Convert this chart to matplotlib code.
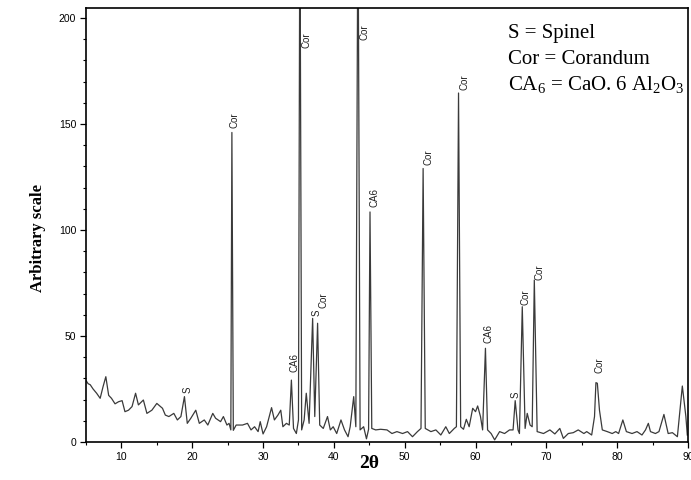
import matplotlib
matplotlib.use("Agg")
import matplotlib.pyplot as plt
from matplotlib.ticker import MultipleLocator

# XRD pattern (2theta in degrees, arbitrary intensity)
two_theta = [
    5.0, 5.3, 5.6, 6.0, 6.5, 7.0, 7.4, 7.8, 8.2, 8.6, 9.1, 9.6, 10.1, 10.5, 11.0,
    11.5, 12.0, 12.4, 13.1, 13.6, 14.3, 15.0, 15.8, 16.2, 16.7, 17.4, 17.9, 18.4,
    18.9, 19.3, 19.8, 20.5, 21.0, 21.7, 22.2, 22.9, 23.3, 24.0, 24.4, 24.9, 25.2,
    25.45, 25.6, 25.8, 26.2, 27.1, 27.8, 28.3, 28.8, 29.3, 29.6, 30.0, 30.5, 31.2,
    31.6, 32.1, 32.5, 32.8, 33.3, 33.7, 34.0, 34.3, 34.7, 35.0, 35.2, 35.45, 35.8,
    36.1, 36.5, 37.0, 37.3, 37.7, 38.0, 38.5, 39.1, 39.5, 39.9, 40.4, 41.0, 41.5,
    42.0, 42.3, 42.8, 43.1, 43.4, 43.7, 44.2, 44.6, 44.9, 45.1, 45.35, 45.9, 46.6,
    47.5, 48.2, 48.9, 49.7, 50.4, 51.1, 51.8, 52.3, 52.6, 52.9, 53.7, 54.4, 55.1,
    55.8, 56.3, 57.0, 57.3, 57.6, 57.9, 58.3, 58.7, 59.1, 59.6, 60.0, 60.3, 60.7,
    61.0, 61.4, 61.7, 62.2, 62.7, 63.4, 64.1, 64.8, 65.3, 65.6, 66.0, 66.2, 66.6,
    67.0, 67.3, 67.7, 68.0, 68.3, 68.7, 69.6, 70.5, 71.2, 71.9, 72.4, 73.1, 73.8,
    74.5, 75.3, 75.7, 76.4, 76.8, 77.0, 77.2, 77.5, 77.9, 78.6, 79.3, 79.8, 80.2,
    80.8, 81.3, 82.1, 82.8, 83.5, 84.0, 84.4, 84.7, 85.4, 85.9, 86.6, 87.2, 87.8,
    88.5, 89.2, 89.7, 89.9,
]
intensity = [
    29, 27.5, 27, 25, 23, 20.6, 26, 30.8, 22, 20.6, 18, 19, 19.5, 14.3, 15,
    16.7, 23, 17.5, 19.8, 13.5, 15, 18.2, 15.9, 12.7, 12, 13.5, 10.4, 12,
    21.4, 8.8, 11.2, 15, 8.8, 10.4, 8, 13.5, 11.2, 9.6, 12, 8, 8.8,
    5.7, 146, 5.5, 8, 8, 8.8, 5.7, 7.2, 4.9, 9.6, 3.8, 7.2, 16.2,
    10.4, 12.7, 15, 7.2, 8.8, 8, 29.2, 6.4, 4, 10.4, 260, 5.7, 10.4,
    23, 8.8, 58.3, 12, 56, 8, 6.4, 12, 5.7, 7.2, 4, 10.4, 5.7,
    2.5, 7.2, 21.4, 7.2, 260, 5.7, 7.2, 1.5, 6, 108.5, 6.4, 5.7, 6,
    5.7, 4, 4.9, 4, 4.9, 2.5, 4.9, 6.4, 129, 6.4, 4.9, 5.7, 3.3,
    7.2, 4, 6.4, 7.2, 164.6, 7.2, 6, 10.7, 7.2, 15.9, 14.3, 17, 12,
    5.7, 44.2, 5.7, 4, 1, 4.9, 4, 5.7, 5.7, 19.5, 5.7, 4, 63.8,
    6.4, 13.5, 8, 7.2, 76.4, 4.9, 4, 5.7, 3.8, 6.4, 1.7, 4, 4.4,
    5.7, 4, 4.9, 3.3, 12, 28, 27.7, 15, 5.7, 4.9, 4, 4.9, 4,
    10.4, 4.9, 4, 4.9, 3.3, 5.7, 8.8, 4.9, 4, 4.9, 13, 4, 4.4,
    2.5, 26.4, 12, 3.3,
]

# phase labels: position (2theta, height of text foot) and name
label_theta = [19.3, 25.95, 34.45, 36.15, 37.6, 38.5, 44.35, 45.7, 53.4,
               58.4, 61.9, 65.7, 67.0, 69.1, 77.5]
label_level = [23.1, 148, 33, 186, 59.4, 63.2, 189.6, 110.8, 130.7,
               166, 46.7, 20.8, 64.6, 76.4, 32.5]
label_text = ["S", "Cor", "CA6", "Cor", "S", "Cor", "Cor", "CA6", "Cor",
              "Cor", "CA6", "S", "Cor", "Cor", "Cor"]

legend_lines = ["S = Spinel", "Cor = Corandum",
                r"CA$_6$ = CaO. 6 Al$_2$O$_3$"]

plt.rcParams['mathtext.fontset'] = 'custom'
plt.rcParams['mathtext.rm'] = 'Liberation Serif'
plt.rcParams['mathtext.it'] = 'Liberation Serif:italic'

fig = plt.figure(figsize=(6.91, 4.80), dpi=100)
ax = fig.add_axes([86 / 691, 38 / 480, 602 / 691, 434 / 480])

ax.plot(two_theta, intensity, color='#3a3a3a', lw=0.9)

for x, y, t in zip(label_theta, label_level, label_text):
    ax.text(x, y, t, rotation=90, ha='center', va='bottom',
            fontsize=7, family='Liberation Sans', color='#222222')

for i, line in enumerate(legend_lines):
    ax.text(64.6, 190.5 - 12.2 * i, line, ha='left', va='baseline',
            fontsize=15, family='Liberation Serif')

ax.set_xlim(5, 90)
ax.set_ylim(0, 204.7)
ax.xaxis.set_major_locator(MultipleLocator(10))
ax.xaxis.set_minor_locator(MultipleLocator(5))
ax.yaxis.set_major_locator(MultipleLocator(50))
ax.yaxis.set_minor_locator(MultipleLocator(10))
ax.tick_params(which='major', length=4, width=0.9, labelsize=7.5, pad=3)
ax.tick_params(which='minor', length=2.5, width=0.8)
for lbl in ax.get_xticklabels() + ax.get_yticklabels():
    lbl.set_family('Liberation Sans')
for s in ax.spines.values():
    s.set_linewidth(1.2)

ax.set_ylabel("Arbitrary scale", fontsize=12, fontweight='bold',
              family='Liberation Serif')
ax.yaxis.set_label_coords(-0.066, 0.47)
ax.set_xlabel("2θ", fontsize=14, fontweight='bold', family='Liberation Serif')
ax.xaxis.set_label_coords(0.47, -0.03)

fig.savefig("out.png", dpi=100)
